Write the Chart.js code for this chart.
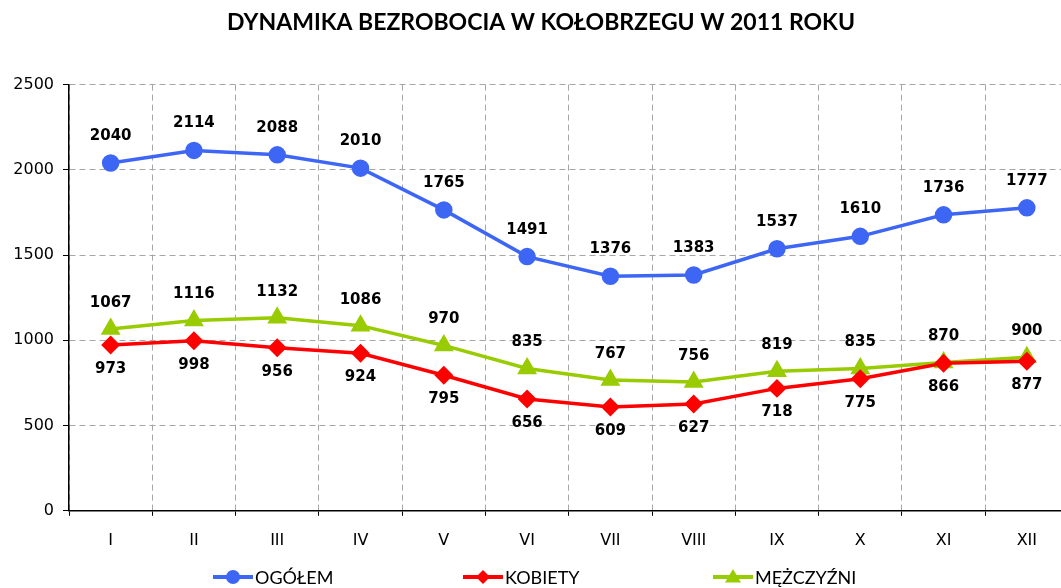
<!DOCTYPE html>
<html>
<head>
<meta charset="utf-8">
<script src="https://cdn.jsdelivr.net/npm/chart.js@4.4.1/dist/chart.umd.min.js"></script>
<style>
  html, body { margin: 0; padding: 0; overflow: hidden; background: #fff; }
  #wrap { width: 1080px; height: 588px; }
</style>
</head>
<body>
<div id="wrap"><canvas id="unempChart"></canvas></div>
<script>
const months = ['I', 'II', 'III', 'IV', 'V', 'VI', 'VII', 'VIII', 'IX', 'X', 'XI', 'XII'];
const ogolem = [2040, 2114, 2088, 2010, 1765, 1491, 1376, 1383, 1537, 1610, 1736, 1777];
const kobiety = [973, 998, 956, 924, 795, 656, 609, 627, 718, 775, 866, 877];
const mezczyzni = [1067, 1116, 1132, 1086, 970, 835, 767, 756, 819, 835, 870, 900];
const yTicks = [0, 500, 1000, 1500, 2000, 2500];

const BLUE = '#3d66f5';
const RED = '#ff0000';
const GREEN = '#99cc00';

// value labels above / below each point
const valueLabels = {
  id: 'valueLabels',
  afterDatasetsDraw(chart) {
    const ctx = chart.ctx;
    ctx.save();
    ctx.font = 'bold 15px "DejaVu Sans"';
    ctx.fillStyle = '#000';
    ctx.textAlign = 'center';
    ctx.textBaseline = 'middle';
    chart.data.datasets.forEach((ds, i) => {
      const meta = chart.getDatasetMeta(i);
      meta.data.forEach((pt, j) => {
        ctx.fillText(String(ds.data[j]), pt.x, pt.y + ds.labelOffset);
      });
    });
    ctx.restore();
  }
};

function marker(ctx, style, x, y, r, color) {
  ctx.fillStyle = color;
  ctx.beginPath();
  if (style === 'circle') {
    ctx.arc(x, y, r, 0, Math.PI * 2);
  } else if (style === 'rectRot') {
    ctx.moveTo(x, y - r); ctx.lineTo(x + r, y); ctx.lineTo(x, y + r); ctx.lineTo(x - r, y);
  } else {
    ctx.moveTo(x, y - r); ctx.lineTo(x + r, y + r * 0.7); ctx.lineTo(x - r, y + r * 0.7);
  }
  ctx.closePath();
  ctx.fill();
}

// Excel-like legend: line + marker, equal slots
const lineLegend = {
  id: 'lineLegend',
  afterDraw(chart) {
    const ctx = chart.ctx;
    const slot = 250;
    const n = chart.data.datasets.length;
    const start = chart.width / 2 - (n * slot) / 2 + 48;
    const y = 577;
    ctx.save();
    ctx.font = '18px Lato';
    ctx.textBaseline = 'middle';
    chart.data.datasets.forEach((ds, i) => {
      const x0 = start + i * slot;
      ctx.strokeStyle = ds.borderColor;
      ctx.lineWidth = 4;
      ctx.beginPath();
      ctx.moveTo(x0, y);
      ctx.lineTo(x0 + 40, y);
      ctx.stroke();
      marker(ctx, ds.pointStyle, x0 + 20, y, ds.pointRadius, ds.borderColor);
      ctx.fillStyle = '#000';
      ctx.fillText(ds.label, x0 + 42, y + 1);
    });
    ctx.restore();
  }
};

new Chart(document.getElementById('unempChart').getContext('2d'), {
  type: 'line',
  data: {
    labels: months,
    datasets: [
      {
        label: 'OGÓŁEM',
        data: ogolem,
        borderColor: BLUE,
        backgroundColor: BLUE,
        pointStyle: 'circle',
        pointRadius: 7,
        borderWidth: 3.5,
        labelOffset: -27
      },
      {
        label: 'KOBIETY',
        data: kobiety,
        borderColor: RED,
        backgroundColor: RED,
        pointStyle: 'rectRot',
        pointRadius: 7,
        borderWidth: 3.5,
        labelOffset: 24
      },
      {
        label: 'MĘŻCZYŹNI',
        data: mezczyzni,
        borderColor: GREEN,
        backgroundColor: GREEN,
        pointStyle: 'triangle',
        pointRadius: 8,
        borderWidth: 3.5,
        labelOffset: -26
      }
    ]
  },
  options: {
    responsive: true,
    maintainAspectRatio: false,
    animation: false,
    layout: { padding: { left: 12, right: 10, bottom: 23, top: 0 } },
    plugins: {
      legend: { display: false },
      tooltip: { enabled: false },
      title: {
        display: true,
        text: 'DYNAMIKA BEZROBOCIA W KOŁOBRZEGU W 2011 ROKU',
        color: '#000',
        font: { family: 'Lato', size: 23, weight: 'bold' },
        padding: { top: 9, bottom: 48 }
      }
    },
    scales: {
      x: {
        offset: true,
        grid: {
          offset: true,
          color: '#a6a6a6',
          tickColor: '#000',
          tickLength: 5,
          tickBorderDash: []
        },
        border: { display: true, color: '#000', width: 1.5, dash: [6, 4] },
        ticks: {
          color: '#000',
          padding: 15,
          font: { family: 'DejaVu Sans', size: 16 }
        }
      },
      y: {
        min: 0,
        max: 2500,
        afterBuildTicks(axis) { axis.ticks = yTicks.map(v => ({ value: v })); },
        afterFit(axis) { axis.width = 57; },
        grid: {
          color: '#a6a6a6',
          tickColor: '#000',
          tickLength: 6,
          tickBorderDash: []
        },
        border: { display: true, color: '#000', width: 1.5, dash: [6, 4] },
        ticks: {
          color: '#000',
          padding: 9,
          font: { family: 'DejaVu Sans', size: 16 },
          callback: v => String(v)
        }
      }
    }
  },
  plugins: [valueLabels, lineLegend]
});
</script>
</body>
</html>
